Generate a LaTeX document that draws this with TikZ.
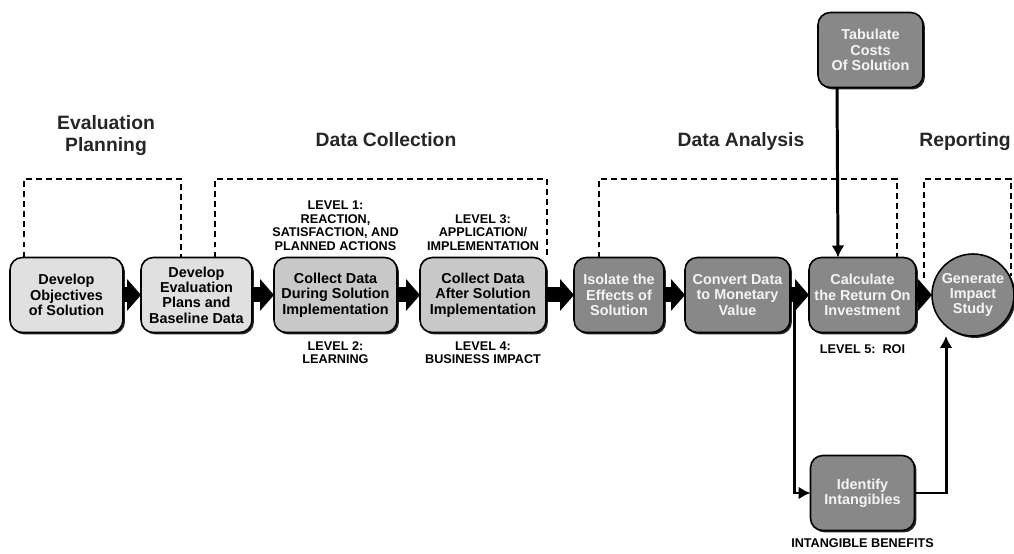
\documentclass[tikz,border=0pt]{standalone}
\usepackage{fontspec}
\setmainfont{Liberation Sans}
\usetikzlibrary{positioning}
\usetikzlibrary{arrows.meta}
\usetikzlibrary{calc}
\usetikzlibrary{shadows}
\definecolor{figGrisClaro}{RGB}{224,224,224}
\definecolor{figGrisMedio}{RGB}{200,200,200}
\definecolor{figGrisOscuro}{RGB}{136,136,136}
\definecolor{figTextoClaro}{RGB}{244,244,244}
\tikzset{
  etapa/.style={
    rectangle, rounded corners=7pt, draw=black, line width=0.9pt, outer sep=0pt,
    fill=figGrisClaro, minimum height=1.5cm, minimum width=2.2cm,
    align=center, font=\bfseries\fontsize{8.2}{8.7}\selectfont, inner sep=1pt,
    drop shadow={shadow xshift=1.1pt, shadow yshift=-1.1pt, opacity=0.85, fill=black}
  },
  etapam/.style={
    rectangle, rounded corners=7pt, draw=black, line width=0.9pt, outer sep=0pt,
    fill=figGrisMedio, minimum height=1.5cm, minimum width=2.2cm,
    align=center, font=\bfseries\fontsize{8.2}{8.7}\selectfont, inner sep=1pt,
    drop shadow={shadow xshift=1.1pt, shadow yshift=-1.1pt, opacity=0.85, fill=black}
  },
  etapao/.style={
    rectangle, rounded corners=7pt, draw=black, line width=0.9pt, outer sep=0pt,
    fill=figGrisOscuro, minimum height=1.5cm, minimum width=2.2cm, text=figTextoClaro,
    align=center, font=\bfseries\fontsize{8.2}{8.7}\selectfont, inner sep=1pt,
    drop shadow={shadow xshift=1.1pt, shadow yshift=-1.1pt, opacity=0.85, fill=black}
  },
  circulo/.style={
    circle, draw=black, line width=0.9pt, outer sep=0pt, fill=figGrisOscuro, text=figTextoClaro,
    minimum size=1.64cm, inner sep=0pt,
    align=center, font=\bfseries\fontsize{8.2}{8.7}\selectfont,
    drop shadow={shadow xshift=1.1pt, shadow yshift=-1.1pt, opacity=0.85, fill=black}
  },
  nivel/.style={align=center, font=\bfseries\fontsize{7.2}{7.7}\selectfont, inner sep=1pt},
  fase/.style={align=center, font=\bfseries\fontsize{11}{12.5}\selectfont, text=black!85, inner sep=0pt},
  flecha/.style={-{Triangle[length=0.28cm, width=0.64cm, line width=0pt]}, line width=0.3cm, draw=black},
  flechaf/.style={-{Latex[length=0.24cm, width=0.26cm]}, line width=1.7pt, draw=black},
  grupo/.style={draw=black, line width=0.75pt, dash pattern=on 3.4pt off 2.3pt}
}

\begin{document}
\begin{tikzpicture}[node distance=0.4cm]
  \useasboundingbox (0,0) rectangle (20.28,11.08);

  % fila principal
  \node[etapa, minimum width=2.26cm] (objetivos) at (1.33,5.18) {Develop\\Objectives\\of Solution};
  \node[etapa, minimum width=2.22cm, right=0.36cm of objetivos] (planes) {Develop\\Evaluation\\Plans and\\Baseline Data};
  \node[etapam, minimum width=2.46cm, right=0.44cm of planes] (durante) {Collect Data\\During Solution\\Implementation};
  \node[etapam, minimum width=2.52cm, right=0.46cm of durante] (despues) {Collect Data\\After Solution\\Implementation};
  \node[etapao, minimum width=1.8cm, right=0.56cm of despues] (aislar) {Isolate the\\Effects of\\Solution};
  \node[etapao, minimum width=2.1cm, right=0.42cm of aislar] (convertir) {Convert Data\\to Monetary\\Value};
  \node[etapao, minimum width=2.14cm, right=0.38cm of convertir] (roi) {Calculate\\the Return On\\Investment};
  \node[circulo, right=0.32cm of roi] (informe) {Generate\\Impact\\Study};

  \node[etapao, minimum width=2.1cm, above=3.4cm of roi, xshift=0.16cm] (costos) {Tabulate\\Costs\\Of Solution};
  \node[etapao, minimum width=2.08cm, below=2.46cm of roi] (intangibles) {Identify\\Intangibles};

  % niveles
  \node[nivel, above=0.1cm of durante] (nivel1) {LEVEL 1:\\REACTION,\\SATISFACTION, AND\\PLANNED ACTIONS};
  \node[nivel, below=0.14cm of durante] (nivel2) {LEVEL 2:\\LEARNING};
  \node[nivel, above=0.1cm of despues] (nivel3) {LEVEL 3:\\APPLICATION/\\IMPLEMENTATION};
  \node[nivel, below=0.14cm of despues] (nivel4) {LEVEL 4:\\BUSINESS IMPACT};
  \node[nivel, below=0.2cm of roi] (nivel5) {LEVEL 5:\ \ ROI};
  \node[nivel, below=0.12cm of intangibles] (beneficios) {INTANGIBLE BENEFITS};

  % fases
  \node[fase] (planificacion) at (2.12,8.36) {Evaluation\\Planning};
  \node[fase] (recoleccion) at (7.72,8.28) {Data Collection};
  \node[fase] (analisis) at (14.82,8.24) {Data Analysis};
  \node[fase] (reporte) at (19.3,8.24) {Reporting};

  \draw[flecha] (objetivos) -- (planes);
  \draw[flecha] (planes) -- (durante);
  \draw[flecha] (durante) -- (despues);
  \draw[flecha] (despues) -- (aislar);
  \draw[flecha] (aislar) -- (convertir);
  \draw[flecha] (convertir) -- (roi);
  \draw[flecha] (roi) -- (informe);

  \draw[flechaf] ([xshift=0.38cm]costos.south west) -- ([xshift=0.58cm]roi.north west);
  \coordinate (rama) at ($(convertir.east)!0.25!(roi.west)$);
  \draw[flechaf] (rama) |- (intangibles.west);
  \draw[flechaf] (intangibles.east) -| ([xshift=-0.54cm]informe.south);

  \draw[grupo] ([xshift=0.28cm]objetivos.north west) -- ++(0,1.57) -| ([xshift=0.8cm]planes.north west);
  \draw[grupo] ([xshift=-0.74cm]planes.north east) -- ++(0,1.57) -| ([xshift=0.02cm]despues.north east);
  \draw[grupo] ([xshift=0.5cm]aislar.north west) -- ++(0,1.57) -| ([xshift=-0.38cm]roi.north east);
  \coordinate (rep1) at ($(informe.center)+(-0.98,0.34)$);
  \coordinate (rep2) at ($(informe.center)+(-0.98,2.32)$);
  \coordinate (rep3) at ($(informe.center)+(0.76,2.32)$);
  \coordinate (rep4) at ($(informe.center)+(0.76,0.38)$);
  \draw[grupo] (rep1) -- (rep2) -- (rep3) -- (rep4);
\end{tikzpicture}
\end{document}
